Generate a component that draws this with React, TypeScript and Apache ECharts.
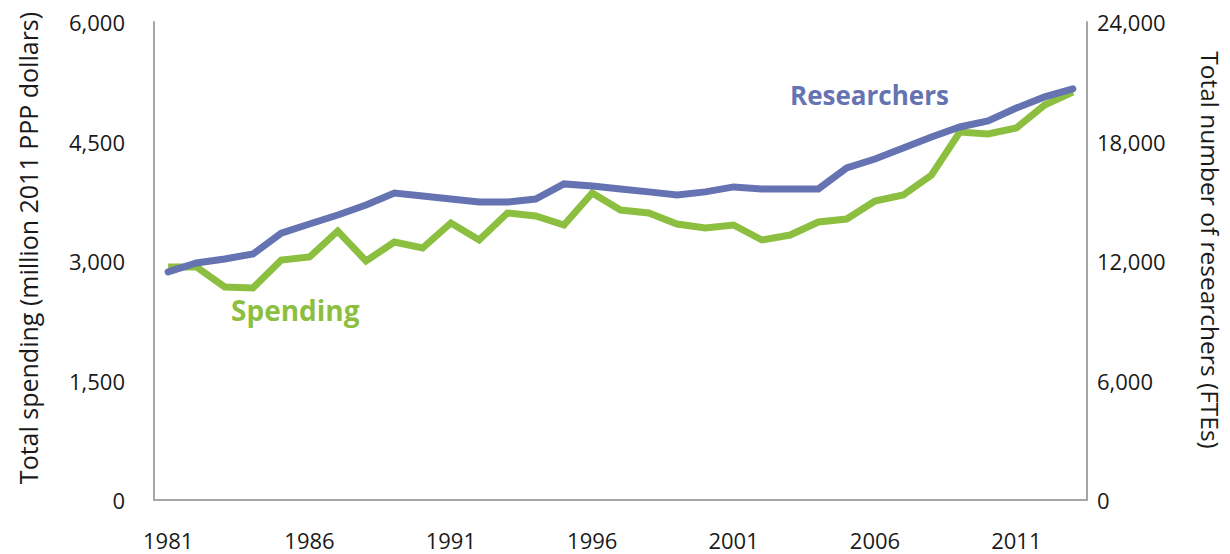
import React, { useEffect, useRef } from "react";
import * as echarts from "echarts";

const years = [
  "1981", "1982", "1983", "1984", "1985", "1986", "1987", "1988", "1989", "1990",
  "1991", "1992", "1993", "1994", "1995", "1996", "1997", "1998", "1999", "2000",
  "2001", "2002", "2003", "2004", "2005", "2006", "2007", "2008", "2009", "2010",
  "2011", "2012", "2013",
];

const spending = [
  2925, 2925, 2674, 2661, 3012, 3050, 3376, 3000, 3238, 3163,
  3477, 3264, 3602, 3565, 3452, 3853, 3640, 3602, 3464, 3414,
  3452, 3264, 3326, 3489, 3527, 3753, 3828, 4079, 4619, 4594,
  4669, 4958, 5121,
];

const researchers = [
  11450, 11900, 12100, 12350, 13400, 13860, 14310, 14810, 15410, 15260,
  15110, 14960, 14960, 15110, 15870, 15770, 15620, 15470, 15310, 15470,
  15720, 15620, 15620, 15620, 16670, 17120, 17670, 18230, 18730, 19030,
  19680, 20240, 20640,
];

const leftAxisTitle = "Total spending (million 2011 PPP dollars)";
const rightAxisTitle = "Total number of researchers (FTEs)";

const GREEN = "#8CBF3F";
const BLUE = "#6673B2";
const TEXT = "#1a1a1a";
const FONT = "'Open Sans', sans-serif";

export default function App() {
  const ref = useRef<HTMLDivElement>(null);
  useEffect(() => {
    if (!ref.current) return;
    const chart = echarts.init(ref.current, null, { renderer: "svg" });
    const fmt = (v: number) => v.toLocaleString("en-US");
    chart.setOption({
      animation: false,
      textStyle: { fontFamily: FONT },
      grid: { left: 154, right: 143, top: 22, bottom: 54 },
      xAxis: {
        type: "category",
        data: years,
        boundaryGap: true,
        axisLine: { lineStyle: { color: "#A6A6A6", width: 2 } },
        axisTick: { show: false },
        axisLabel: { interval: 4, color: TEXT, fontSize: 22, margin: 29, fontFamily: FONT },
      },
      yAxis: [
        {
          type: "value",
          min: 0,
          max: 6000,
          interval: 1500,
          position: "left",
          axisLine: { show: true, lineStyle: { color: "#A6A6A6", width: 2 } },
          axisTick: { show: false },
          splitLine: { show: false },
          axisLabel: { color: TEXT, fontSize: 22, margin: 29, formatter: fmt, fontFamily: FONT },
        },
        {
          type: "value",
          min: 0,
          max: 24000,
          interval: 6000,
          position: "right",
          axisLine: { show: true, lineStyle: { color: "#A6A6A6", width: 2 } },
          axisTick: { show: false },
          splitLine: { show: false },
          axisLabel: { color: TEXT, fontSize: 22, margin: 10, formatter: fmt, fontFamily: FONT },
        },
      ],
      series: [
        {
          name: "Spending",
          type: "line",
          yAxisIndex: 0,
          data: spending,
          symbol: "none",
          lineStyle: { color: GREEN, width: 7, join: "miter" },
          itemStyle: { color: GREEN },
        },
        {
          name: "Researchers",
          type: "line",
          yAxisIndex: 1,
          data: researchers,
          symbol: "none",
          lineStyle: { color: BLUE, width: 7, cap: "round", join: "miter" },
          itemStyle: { color: BLUE },
        },
      ],
      graphic: [
        {
          type: "text",
          x: 28,
          y: 248,
          rotation: Math.PI / 2,
          style: {
            text: leftAxisTitle,
            fill: TEXT,
            font: `25px ${FONT}`,
            align: "center",
            verticalAlign: "middle",
          },
        },
        {
          type: "text",
          x: 1210,
          y: 250,
          rotation: -Math.PI / 2,
          style: {
            text: rightAxisTitle,
            fill: TEXT,
            font: `24.5px ${FONT}`,
            align: "center",
            verticalAlign: "middle",
          },
        },
        {
          type: "text",
          left: 790,
          top: 82,
          style: { text: "Researchers", fill: BLUE, font: `bold 26px ${FONT}` },
        },
        {
          type: "text",
          left: 231,
          top: 296,
          style: { text: "Spending", fill: GREEN, font: `bold 28px ${FONT}` },
        },
      ],
    });
    return () => chart.dispose();
  }, []);
  return <div ref={ref} style={{ width: 1230, height: 554, position: "absolute", left: 0, top: 0 }} />;
}
